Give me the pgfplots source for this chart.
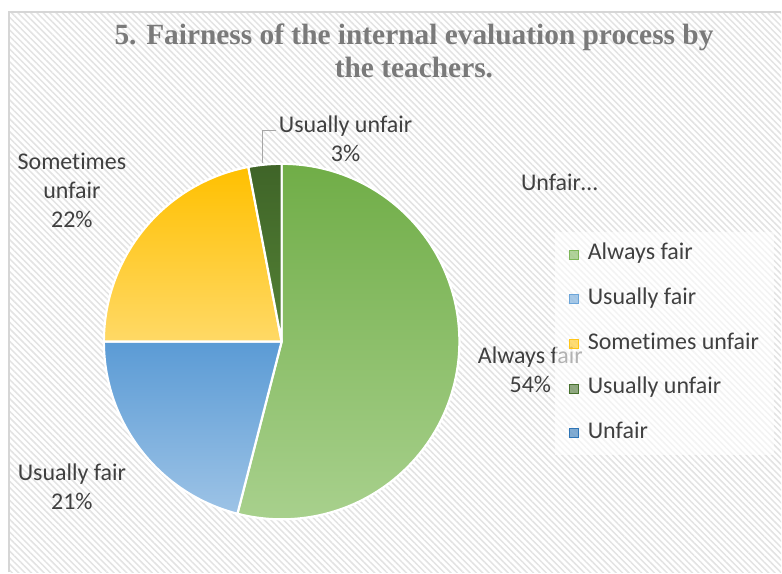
\documentclass[border=0pt]{standalone}
\usepackage{fontspec}
\setmainfont{Carlito}[Ligatures=NoCommon]
\newfontfamily\titlefont{Liberation Serif}
\usepackage{pgfplots}
\pgfplotsset{compat=1.18}
\usepackage{pgfplotstable}
\usetikzlibrary{patterns.meta}

\definecolor{gAt}{HTML}{70AD47}\definecolor{gAb}{HTML}{A9D18E}
\definecolor{bUt}{HTML}{5B9BD5}\definecolor{bUb}{HTML}{9DC3E6}
\definecolor{ySt}{HTML}{FFC000}\definecolor{ySb}{HTML}{FFD966}
\definecolor{dGt}{HTML}{3F6428}\definecolor{dGb}{HTML}{548235}
\definecolor{dBt}{HTML}{2E75B6}\definecolor{dBb}{HTML}{4A86C0}
\definecolor{txt}{HTML}{404040}
\definecolor{ttl}{HTML}{7A7A7A}

% share of answers, percent
\pgfplotstableread[col sep=comma]{
label,value
Always fair,54
Usually fair,21
Sometimes unfair,22
Usually unfair,3
Unfair,0
}\piedata

\newcommand\sq[1]{\fill[#1] (0pt,-4.5pt) rectangle (9pt,4.5pt);}

\begin{document}
\begin{tikzpicture}
\begin{axis}[
  width=782pt, height=573pt, scale only axis,
  xmin=0, xmax=782, ymin=0, ymax=573,
  hide axis, clip=false,
  legend cell align=left,
  legend style={at={(axis cs:555,341)}, anchor=north west,
    draw=none, fill=white, fill opacity=0.6, text opacity=1,
    font=\fontsize{24}{29}\selectfont, text=txt,
    nodes={inner sep=0pt, text height=16pt, text depth=5pt},
    /tikz/every odd column/.append style={column sep=9pt},
    row sep=23.7pt, inner xsep=15pt, inner ysep=12pt},
]
\pgfplotsextra{
  % frame with stripes
  \fill[white] (axis cs:0,0) rectangle (axis cs:782,573);
  \fill[pattern={Lines[angle=-45,distance=4.5pt,line width=1.5pt]},
        pattern color=black!11] (axis cs:9,0) rectangle (axis cs:782,561);
  \draw[black!16, line width=2pt] (axis cs:9,0) -- (axis cs:9,561) -- (axis cs:782,561);
  % pie
  \xdef\startang{90}
  \foreach \i/\ct/\cb in {0/gAt/gAb,1/bUt/bUb,2/ySt/ySb,3/dGt/dGb,4/dBt/dBb}{
    \pgfplotstablegetelem{\i}{value}\of\piedata
    \pgfmathsetmacro\endang{\startang-3.6*\pgfplotsretval}
    \ifdim\pgfplotsretval pt>0pt
      \shadedraw[top color=\ct, bottom color=\cb, draw=white, line width=2.2pt, line join=round]
        (axis cs:282,231) -- ([shift={(\startang:178pt)}]axis cs:282,231)
        arc[start angle=\startang, end angle=\endang, radius=178pt] -- cycle;
    \fi
    \xdef\startang{\endang}
  }
  % leader line
  \draw[black!35, line width=1pt] (axis cs:263,410) -- (axis cs:263,442) -- (axis cs:276,442);
  % data labels
  \begingroup
  \fontsize{24}{29}\selectfont
  \node[text=txt, align=center] at (axis cs:346,434) {Usually unfair\\3\%};
  \node[text=txt, align=center] at (axis cs:72,382) {Sometimes\\unfair\\22\%};
  \node[text=txt, align=center] at (axis cs:72,86) {Usually fair\\21\%};
  \node[text=txt, align=center] at (axis cs:531,203) {Always fair\\54\%};
  \node[text=txt] at (axis cs:560,390) {Unfair…};
  \endgroup
  % title
  \begingroup
  \titlefont\bfseries\fontsize{29.4}{33}\selectfont
  \node[text=ttl, anchor=base, inner sep=0pt] at (axis cs:414.5,528)
    {5. Fairness of the internal evaluation process by};
  \node[text=ttl, anchor=base, inner sep=0pt] at (axis cs:414.5,495.3)
    {the teachers.};
  \endgroup
}
\addlegendimage{legend image code/.code={\sq{gAt!75!gAb}}}
\addlegendentry{Always fair}
\addlegendimage{legend image code/.code={\sq{bUt!75!bUb}}}
\addlegendentry{Usually fair}
\addlegendimage{legend image code/.code={\sq{ySt!75!ySb}}}
\addlegendentry{Sometimes unfair}
\addlegendimage{legend image code/.code={\sq{dGt!60!dGb}}}
\addlegendentry{Usually unfair}
\addlegendimage{legend image code/.code={\sq{dBt}}}
\addlegendentry{Unfair}
\end{axis}
\end{tikzpicture}
\end{document}
